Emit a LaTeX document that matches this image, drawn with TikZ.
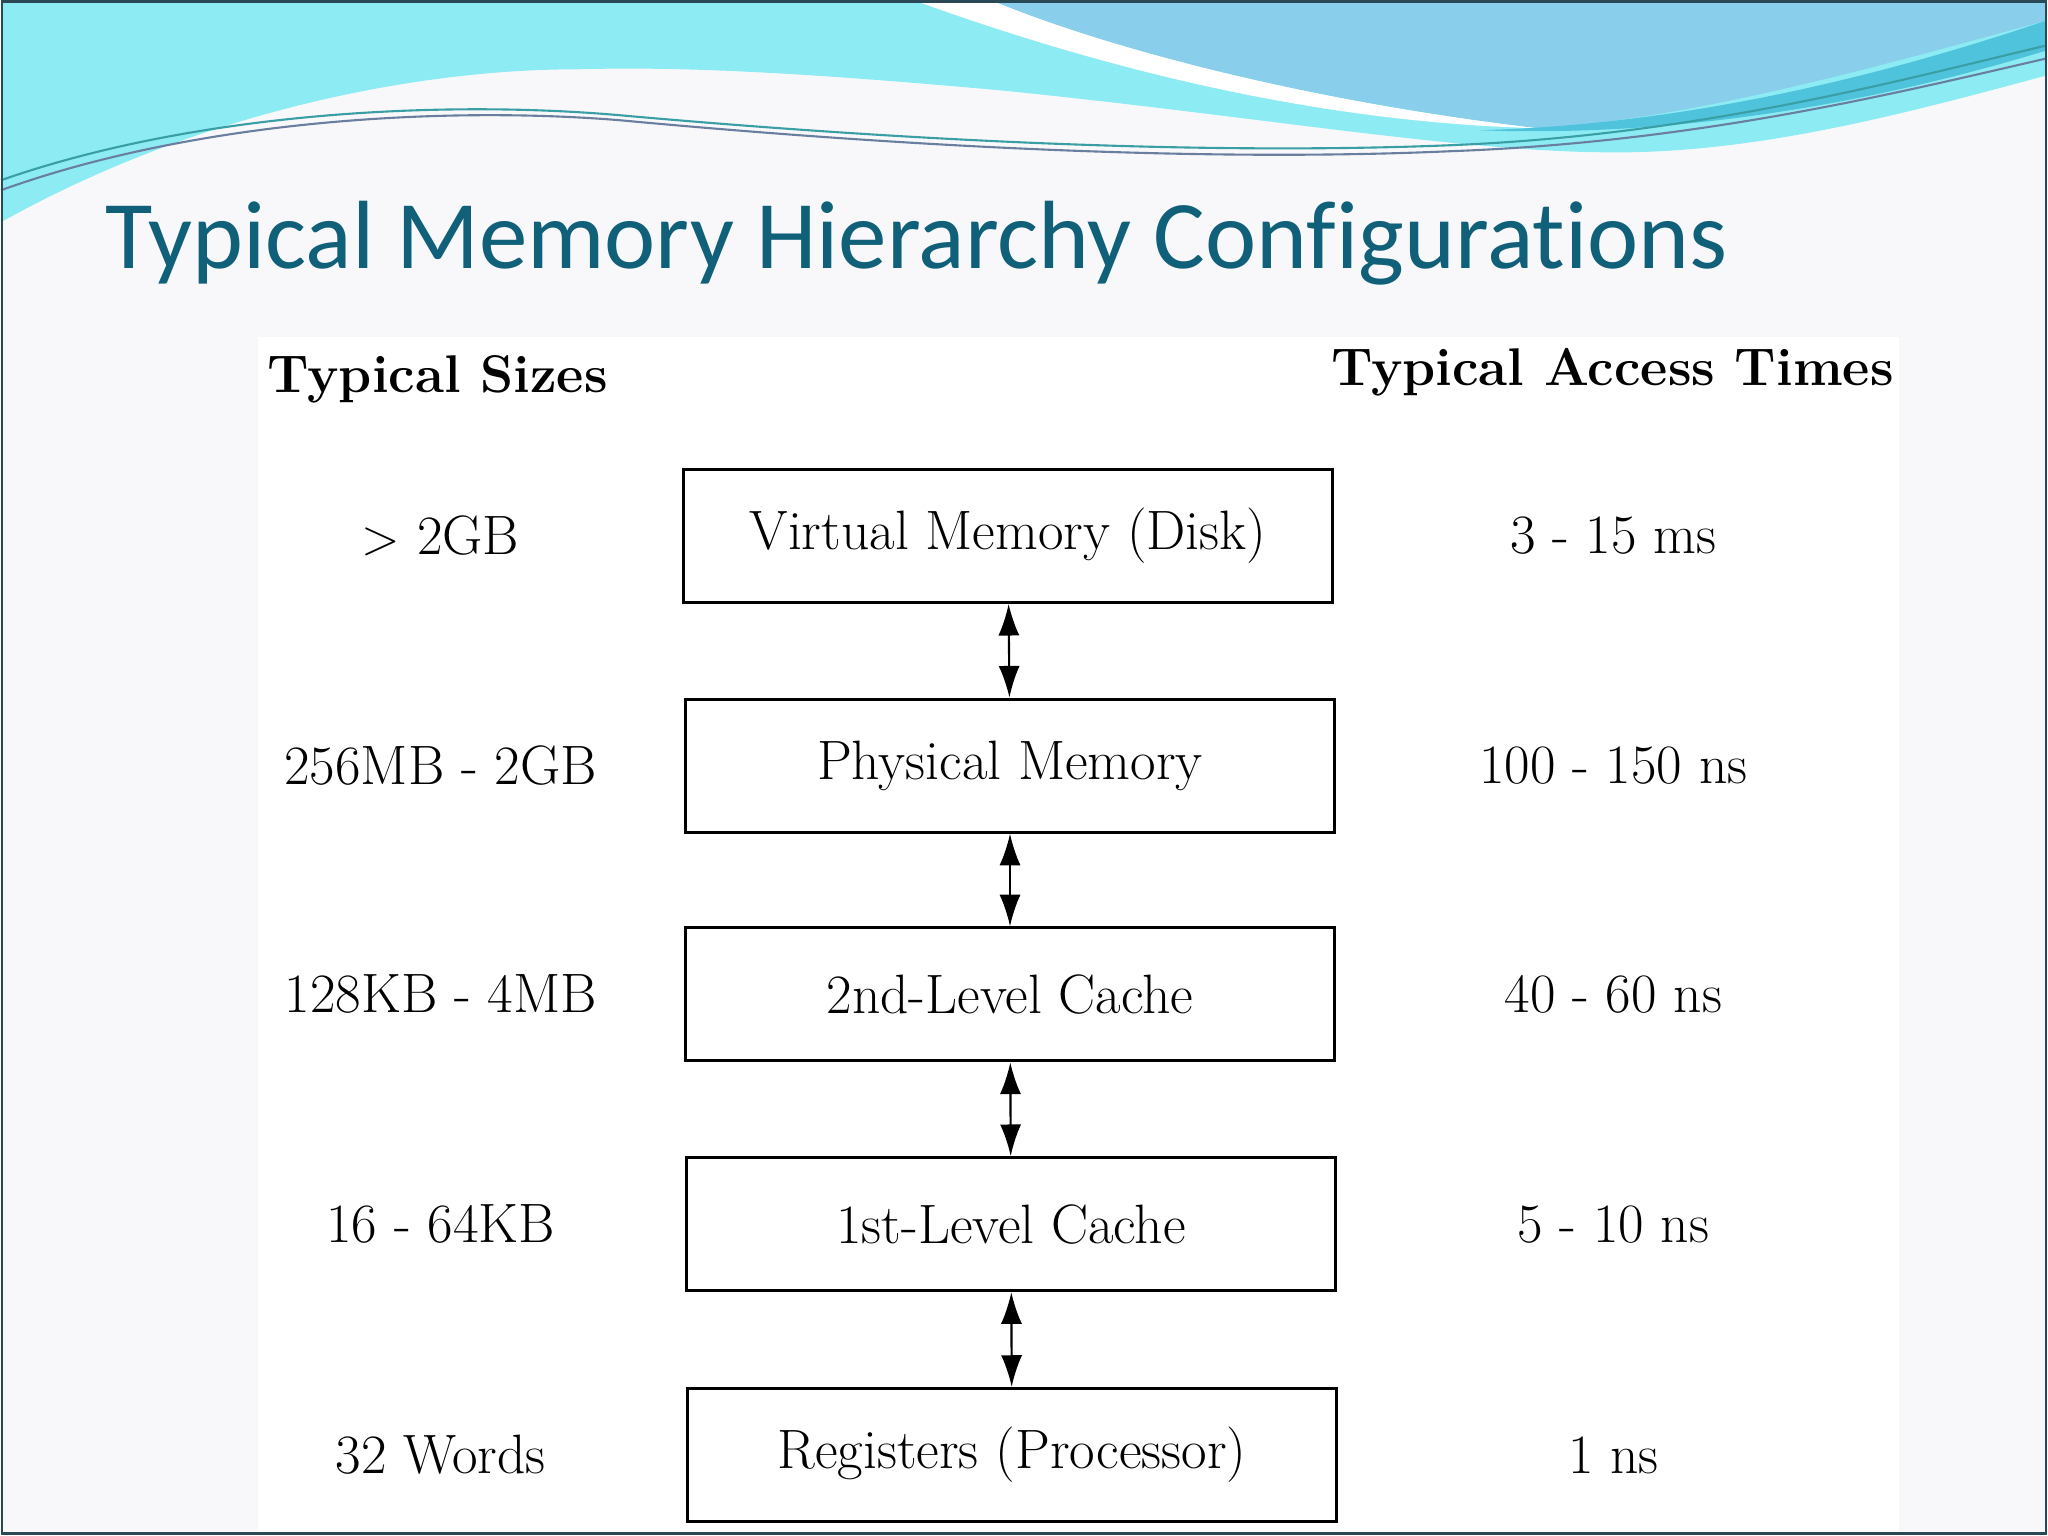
\documentclass[tikz,border=0pt]{standalone}
\usepackage{fontspec}
\newfontfamily\slidefont[Ligatures=NoCommon]{Carlito}
\usetikzlibrary{arrows.meta,positioning}
\definecolor{slidebg}{HTML}{F8F8FA}
\definecolor{wavecyan}{HTML}{8DEBF3}
\definecolor{waveblue}{HTML}{89CEEA}
\definecolor{waveteal}{HTML}{4FC3DC}
\definecolor{titleteal}{HTML}{0F6078}
\definecolor{frameline}{HTML}{2B4856}
\definecolor{linegreen}{HTML}{3A9EA5}
\definecolor{linegray}{HTML}{6A7FA0}
\begin{document}
\begin{tikzpicture}[x=0.01cm,y=-0.01cm]
     \tikzstyle{levelbox}=[draw,line width=0.9pt,minimum width=6.5cm,minimum height=1.33cm,
                           font=\fontsize{15.8}{18}\selectfont,inner sep=0pt]
     \tikzstyle{sidelabel}=[font=\fontsize{15.8}{18}\selectfont,inner sep=0pt]
     \tikzstyle{headlabel}=[font=\fontsize{15.1}{18}\selectfont\bfseries,inner sep=0pt]
     \tikzstyle{biarrow}=[{Latex[length=9pt,width=6pt]}-{Latex[length=9pt,width=6pt]},line width=0.6pt]
     % slide background and waves
     \fill[slidebg] (0,0) rectangle (2048,1536);
     \fill[wavecyan] (0,0) -- (2048,0) -- (2048,75) .. controls (1900,115) and (1750,155) .. (1600,152)
       .. controls (1450,150) and (1250,115) .. (1000,90) .. controls (800,72) and (680,66) .. (575,69)
       .. controls (420,69) and (200,110) .. (0,222) -- cycle;
     \fill[white] (914,0) .. controls (1080,60) and (1300,122) .. (1540,128)
       .. controls (1300,100) and (1100,45) .. (992,0) -- cycle;
     \fill[waveblue] (992,0) -- (2048,0) -- (2048,20) .. controls (1900,60) and (1700,118) .. (1540,128)
       .. controls (1300,100) and (1100,45) .. (992,0) -- cycle;
     \fill[waveteal] (1480,130) .. controls (1700,124) and (1900,70) .. (2048,20) -- (2048,50)
       .. controls (1900,95) and (1700,138) .. (1480,130) -- cycle;
     \draw[line width=0.6pt,color=linegreen] (0,180) .. controls (200,110) and (450,100) .. (620,115)
       .. controls (900,140) and (1200,155) .. (1450,145) .. controls (1700,135) and (1900,80) .. (2048,45);
     \draw[line width=0.6pt,color=linegray] (0,190) .. controls (200,118) and (450,106) .. (620,120)
       .. controls (900,146) and (1200,162) .. (1450,151) .. controls (1700,142) and (1900,92) .. (2048,58);
     \fill[white] (257,337) rectangle (1900,1536);
     \draw[frameline,line width=0.8pt] (1,1) rectangle (2047,1535);
     \node[anchor=base west,text=titleteal,inner sep=0pt,font=\fontsize{27.6}{31}\slidefont] (title)
       at (104,268) {Typical Memory Hierarchy Configurations};
     % column heads
     \node[headlabel] (sizehead) at (437,379) {Typical Sizes};
     \node[headlabel] (timehead) at (1613,372) {Typical Access Times};
     % the levels
     \node[levelbox] (vm) at (1008,536) {Virtual Memory (Disk)};
     \node[levelbox] (pm) at (1010,766) {Physical Memory};
     \node[levelbox] (l2) at (1010,995) {2nd-Level Cache};
     \node[levelbox] (l1) at (1011,1225) {1st-Level Cache};
     \node[levelbox] (reg) at (1012,1456) {Registers (Processor)};
     \node[sidelabel] (svm) at (440,0 |- vm) {$>$ 2GB};
     \node[sidelabel] (spm) at (440,0 |- pm) {256MB - 2GB};
     \node[sidelabel] (sl2) at (440,0 |- l2) {128KB - 4MB};
     \node[sidelabel] (sl1) at (440,0 |- l1) {16 - 64KB};
     \node[sidelabel] (sreg) at (440,0 |- reg) {32 Words};
     \node[sidelabel] (tvm) at (1614,0 |- vm) {3 - 15 ms};
     \node[sidelabel] (tpm) at (1614,0 |- pm) {100 - 150 ns};
     \node[sidelabel] (tl2) at (1614,0 |- l2) {40 - 60 ns};
     \node[sidelabel] (tl1) at (1614,0 |- l1) {5 - 10 ns};
     \node[sidelabel] (treg) at (1614,0 |- reg) {1 ns};
     \draw[biarrow] (vm) -- (pm);
     \draw[biarrow] (pm) -- (l2);
     \draw[biarrow] (l2) -- (l1);
     \draw[biarrow] (l1) -- (reg);
\end{tikzpicture}
\end{document}
